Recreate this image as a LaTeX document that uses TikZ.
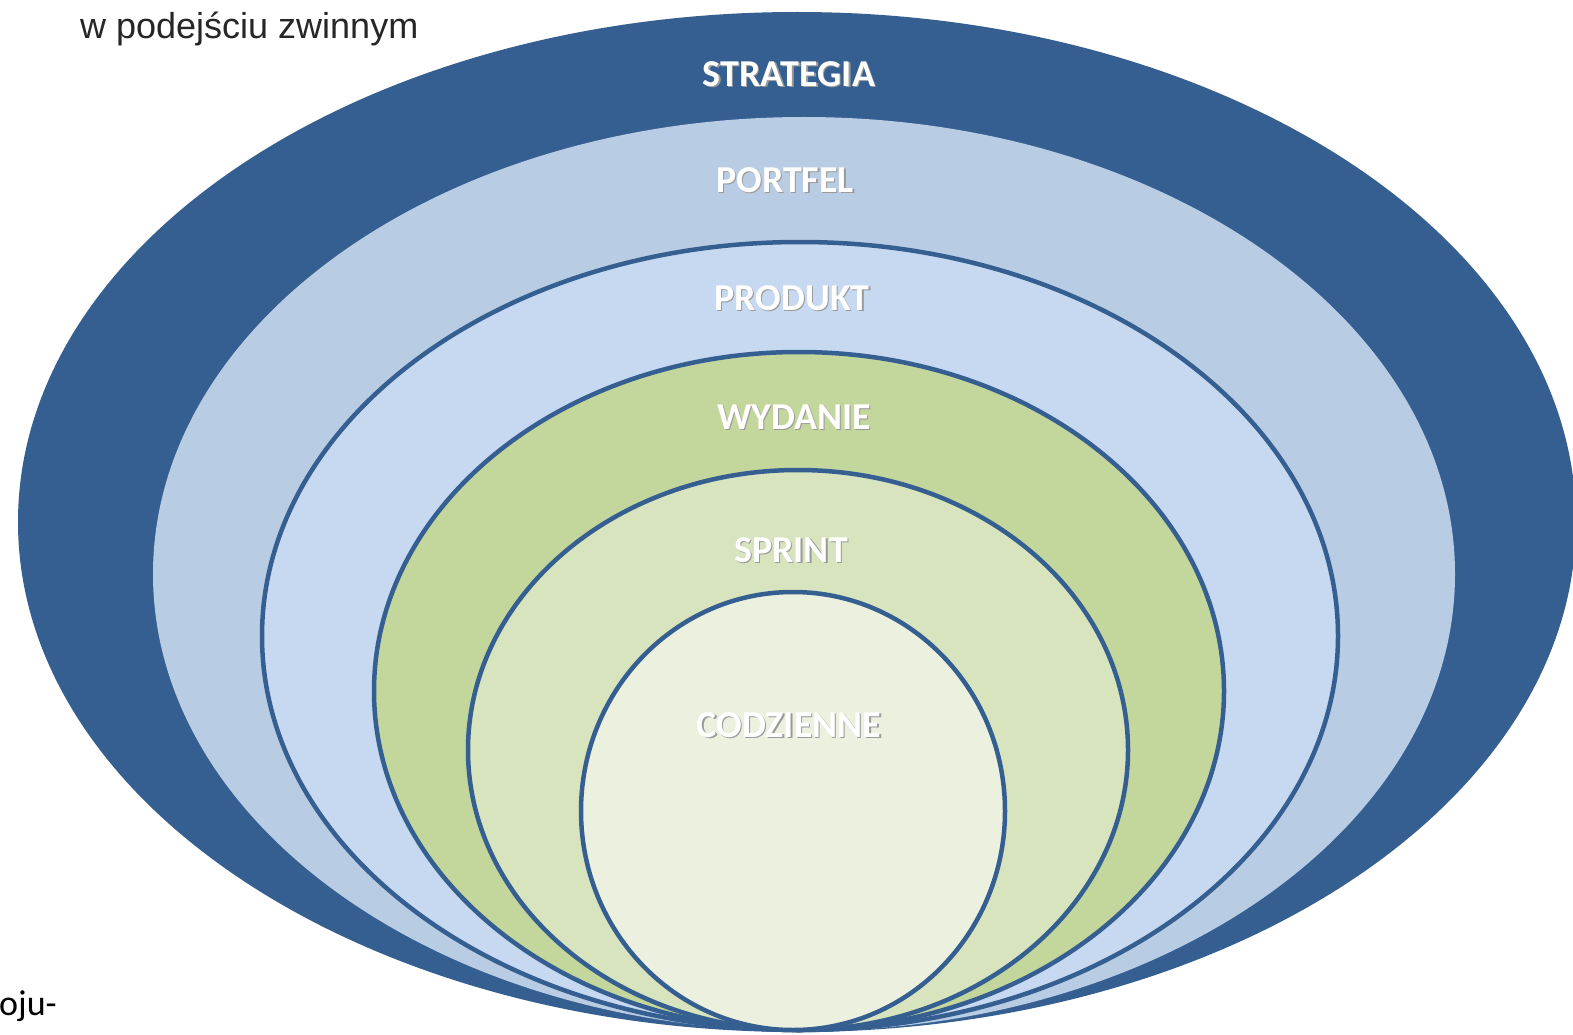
\documentclass[tikz,border=0pt]{standalone}
\usepackage{fontspec}
\setmainfont{Carlito}
\newfontfamily\arialf{Liberation Sans}
\definecolor{strat}{HTML}{365F91}
\definecolor{portf}{HTML}{B8CCE4}
\definecolor{produ}{HTML}{C6D9F1}
\definecolor{wyda}{HTML}{C3D69B}
\definecolor{sprin}{HTML}{D7E4BD}
\definecolor{codz}{HTML}{EBF1DE}
\definecolor{shade}{HTML}{9A9A9A}
\newcommand\shtext[1]{\makebox[0pt][l]{\textcolor{shade}{\kern1.3pt\raisebox{-1.3pt}{#1}}}#1}
\tikzset{
  ring/.style={draw=strat, line width=4.5pt},
  lab/.style={text=white, font=\bfseries\fontsize{38}{42}\selectfont, inner sep=0pt, anchor=center},
}
\begin{document}
\begin{tikzpicture}[x=1pt,y=-1pt]
\useasboundingbox (0,0) rectangle (1573,1035);
\clip (0,0) rectangle (1573,1035);
\fill[white] (0,0) rectangle (1573,1035);
\fill[strat] (797,522) ellipse [x radius=779, y radius=510];
\fill[portf] (804,574) ellipse [x radius=651, y radius=457];
\filldraw[fill=produ, ring] (800,636) ellipse [x radius=538, y radius=394];
\filldraw[fill=wyda, ring] (799,691) ellipse [x radius=425, y radius=339];
\filldraw[fill=sprin, ring] (798,750) ellipse [x radius=330, y radius=280];
\filldraw[fill=codz, ring] (793,811) ellipse [x radius=212, y radius=219];
\node[lab] (strategia) at (789,75) {\shtext{STRATEGIA}};
\node[lab] (portfel) at (785,181) {\shtext{PORTFEL}};
\node[lab] (produkt) at (792,299) {\shtext{PRODUKT}};
\node[lab] (wydanie) at (794,418) {\shtext{WYDANIE}};
\node[lab] (sprint) at (791,551) {\shtext{SPRINT}};
\node[lab] (codzienne) at (789,726) {\shtext{CODZIENNE}};
\node[anchor=base west, inner sep=0pt, text={black!85}, font=\arialf\fontsize{36}{40}\selectfont] (title) at (80,39) {w podejściu zwinnym};
\node[anchor=base west, inner sep=0pt, text=black, font=\fontsize{36}{40}\selectfont] (frag) at (-1,1015) {oju-};
\end{tikzpicture}
\end{document}
